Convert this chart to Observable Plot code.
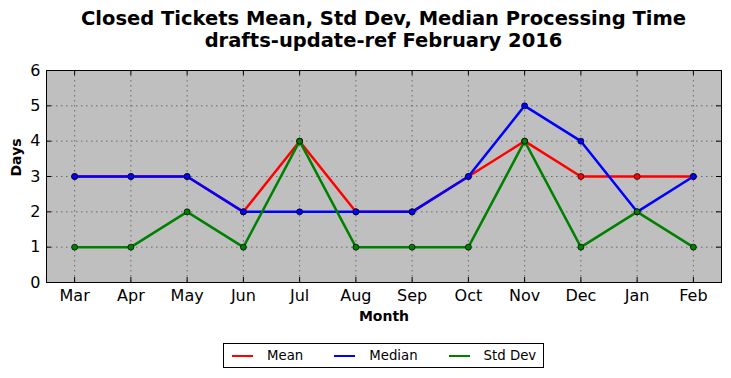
<!DOCTYPE html>
<html><head><meta charset="utf-8">
<script src="https://cdn.jsdelivr.net/npm/d3@7"></script>
<script src="https://cdn.jsdelivr.net/npm/@observablehq/plot@0.6"></script>
<style>
body{margin:0;background:#fff;font-family:"DejaVu Sans",sans-serif;}
#wrap{width:731px;}
#title{height:60px;text-align:center;font-weight:bold;font-size:19.5px;line-height:22px;padding-top:8px;padding-left:36px;box-sizing:border-box;color:#000;}
#legend{margin:13px 0 0 223px;width:321px;height:25px;box-sizing:border-box;border:1px solid #000;display:flex;align-items:center;font-size:13.3px;color:#000;}
.item{display:flex;align-items:center;}
.sw{display:inline-block;width:21px;height:0;border-top:2.5px solid;margin:0 14px 0 31px;}
.item:first-child .sw{margin-left:8px;}
</style></head>
<body><div id="wrap">
<div id="title">Closed Tickets Mean, Std Dev, Median Processing Time<br>drafts-update-ref February 2016</div>
<div id="chart"></div>
<div id="legend"></div>
</div>
<script>
const months = ["Mar","Apr","May","Jun","Jul","Aug","Sep","Oct","Nov","Dec","Jan","Feb"];
const meanVals = [3,3,3,2,4,2,2,3,4,3,3,3];
const medianVals = [3,3,3,2,2,2,2,3,5,4,2,3];
const stdVals = [1,1,2,1,4,1,1,1,4,1,2,1];
const yTicks = [0,1,2,3,4,5,6];
const seriesNames = ["Mean","Median","Std Dev"];
const seriesColors = ["#ff0000","#0000ff","#008000"];
const seriesValues = [meanVals, medianVals, stdVals];

const W = 731, H = 270, mL = 46, mR = 10, mT = 10, mB = 48;
const pw = W - mL - mR, ph = H - mT - mB;

const marks = [
  Plot.frame({fill:"#bfbfbf"}),
  Plot.gridY(yTicks, {stroke:"#555", strokeOpacity:1, strokeDasharray:"1.5,3.5", strokeWidth:0.8}),
  Plot.gridX(months, {stroke:"#555", strokeOpacity:1, strokeDasharray:"1.5,3.5", strokeWidth:0.8}),
];
seriesValues.forEach((vals, i) => {
  const data = months.map((m, j) => ({month: m, value: vals[j]}));
  marks.push(Plot.line(data, {x:"month", y:"value", stroke: seriesColors[i], strokeWidth:2.5}));
  marks.push(Plot.dot(data, {x:"month", y:"value", r:3, fill: seriesColors[i], stroke:"#000", strokeWidth:0.7}));
});
marks.push(
  Plot.tickY(yTicks, {y:d=>d, insetRight: pw - 5, stroke:"#000"}),
  Plot.tickY(yTicks, {y:d=>d, insetLeft: pw - 5, stroke:"#000"}),
  Plot.tickX(months, {x:d=>d, insetTop: ph - 5, stroke:"#000"}),
  Plot.tickX(months, {x:d=>d, insetBottom: ph - 5, stroke:"#000"}),
  Plot.frame({stroke:"#000", strokeWidth:1}),
  Plot.axisY(yTicks, {tickSize:0, tickPadding:6, fontSize:16, label:null}),
  Plot.axisX(months, {tickSize:0, tickPadding:7, fontSize:16, label:null}),
  Plot.text(["Days"], {frameAnchor:"left", rotate:-90, dx:-30, fontWeight:"bold", fontSize:14}),
  Plot.text(["Month"], {frameAnchor:"bottom", dy:38, fontWeight:"bold", fontSize:14})
);

const chart = Plot.plot({
  width: W, height: H, marginLeft: mL, marginRight: mR, marginTop: mT, marginBottom: mB,
  style: {fontFamily: "DejaVu Sans, sans-serif", color:"#000", background:"#fff", overflow:"visible"},
  x: {type:"point", domain: months, padding:0.5, round:false},
  y: {domain:[0,6]},
  marks
});
document.getElementById("chart").appendChild(chart);

const leg = document.getElementById("legend");
seriesNames.forEach((n, i) => {
  const it = document.createElement("span");
  it.className = "item";
  const sw = document.createElement("span");
  sw.className = "sw";
  sw.style.borderTopColor = seriesColors[i];
  it.appendChild(sw);
  const t = document.createElement("span");
  t.textContent = n;
  it.appendChild(t);
  leg.appendChild(it);
});
</script>
</body></html>
